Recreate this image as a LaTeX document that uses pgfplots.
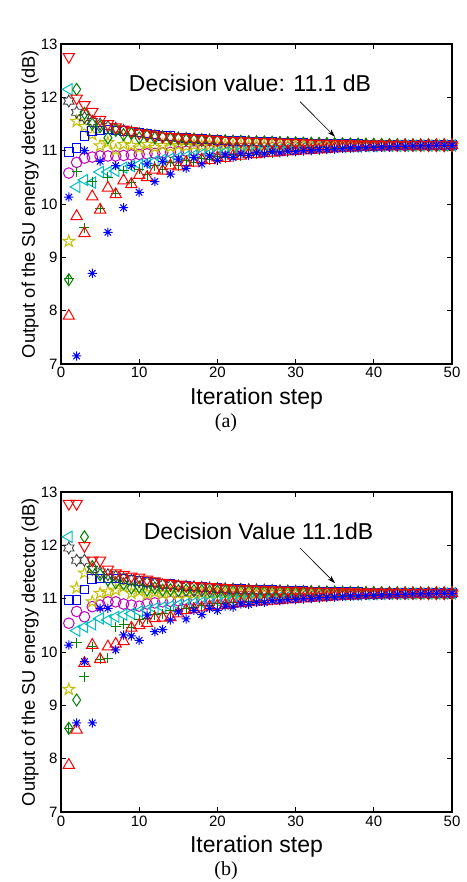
\documentclass[border=0pt]{standalone}
\usepackage{fontspec}
\setmainfont{Liberation Sans}
\newfontfamily\capfont{Liberation Serif}
\usepackage{pgfplots}
\pgfplotsset{compat=1.18}
\usepackage{pgfplotstable}
\usetikzlibrary{arrows.meta}

\definecolor{mblue}{rgb}{0,0,1}
\definecolor{mgreen}{rgb}{0,0.5,0}
\definecolor{mred}{rgb}{1,0,0}
\definecolor{mcyan}{rgb}{0,0.75,0.75}
\definecolor{mmag}{rgb}{0.75,0,0.75}
\definecolor{myel}{rgb}{0.75,0.75,0}
\definecolor{mgray}{rgb}{0.25,0.25,0.25}

% MATLAB-like markers
\pgfdeclareplotmark{penta}{%
  \pgfpathmoveto{\pgfpointpolar{90}{\pgfplotmarksize}}%
  \pgfpathlineto{\pgfpointpolar{126}{0.382\pgfplotmarksize}}%
  \pgfpathlineto{\pgfpointpolar{162}{\pgfplotmarksize}}%
  \pgfpathlineto{\pgfpointpolar{198}{0.382\pgfplotmarksize}}%
  \pgfpathlineto{\pgfpointpolar{234}{\pgfplotmarksize}}%
  \pgfpathlineto{\pgfpointpolar{270}{0.382\pgfplotmarksize}}%
  \pgfpathlineto{\pgfpointpolar{306}{\pgfplotmarksize}}%
  \pgfpathlineto{\pgfpointpolar{342}{0.382\pgfplotmarksize}}%
  \pgfpathlineto{\pgfpointpolar{18}{\pgfplotmarksize}}%
  \pgfpathlineto{\pgfpointpolar{54}{0.382\pgfplotmarksize}}%
  \pgfpathclose\pgfusepathqstroke}
\pgfdeclareplotmark{hexa}{%
  \pgfpathmoveto{\pgfpointpolar{90}{\pgfplotmarksize}}%
  \pgfpathlineto{\pgfpointpolar{120}{0.577\pgfplotmarksize}}%
  \pgfpathlineto{\pgfpointpolar{150}{\pgfplotmarksize}}%
  \pgfpathlineto{\pgfpointpolar{180}{0.577\pgfplotmarksize}}%
  \pgfpathlineto{\pgfpointpolar{210}{\pgfplotmarksize}}%
  \pgfpathlineto{\pgfpointpolar{240}{0.577\pgfplotmarksize}}%
  \pgfpathlineto{\pgfpointpolar{270}{\pgfplotmarksize}}%
  \pgfpathlineto{\pgfpointpolar{300}{0.577\pgfplotmarksize}}%
  \pgfpathlineto{\pgfpointpolar{330}{\pgfplotmarksize}}%
  \pgfpathlineto{\pgfpointpolar{0}{0.577\pgfplotmarksize}}%
  \pgfpathlineto{\pgfpointpolar{30}{\pgfplotmarksize}}%
  \pgfpathlineto{\pgfpointpolar{60}{0.577\pgfplotmarksize}}%
  \pgfpathclose\pgfusepathqstroke}
\pgfdeclareplotmark{diam}{%
  \pgfpathmoveto{\pgfpoint{0pt}{1.2\pgfplotmarksize}}%
  \pgfpathlineto{\pgfpoint{0.8\pgfplotmarksize}{0pt}}%
  \pgfpathlineto{\pgfpoint{0pt}{-1.2\pgfplotmarksize}}%
  \pgfpathlineto{\pgfpoint{-0.8\pgfplotmarksize}{0pt}}%
  \pgfpathclose\pgfusepathqstroke}
\pgfdeclareplotmark{astr}{%
  \pgfpathmoveto{\pgfpointpolar{0}{\pgfplotmarksize}}\pgfpathlineto{\pgfpointpolar{180}{\pgfplotmarksize}}%
  \pgfpathmoveto{\pgfpointpolar{90}{\pgfplotmarksize}}\pgfpathlineto{\pgfpointpolar{270}{\pgfplotmarksize}}%
  \pgfpathmoveto{\pgfpointpolar{45}{\pgfplotmarksize}}\pgfpathlineto{\pgfpointpolar{225}{\pgfplotmarksize}}%
  \pgfpathmoveto{\pgfpointpolar{135}{\pgfplotmarksize}}\pgfpathlineto{\pgfpointpolar{315}{\pgfplotmarksize}}%
  \pgfusepathqstroke}

% columns: A red down-tri, B cyan left-tri, C green diamond, D gray hexagram,
% E yellow pentagram, F blue square, G magenta circle, H green plus,
% I red up-tri, J blue asterisk
\pgfplotstableread{
x A B C D E F G H I J
1 12.76 12.15 8.58 11.93 9.30 10.97 10.58 8.60 7.90 10.13
2 11.98 10.32 12.15 11.72 11.55 11.05 10.78 10.60 9.77 7.15
3 11.86 10.45 11.70 11.62 11.45 11.27 10.86 9.55 9.45 11.00
4 11.73 10.40 11.50 11.55 11.30 11.37 10.88 10.42 10.14 8.70
5 11.58 10.60 11.45 11.50 11.09 11.38 10.90 9.92 9.89 10.80
6 11.50 10.60 11.24 11.45 11.15 11.40 10.90 10.50 10.30 9.47
7 11.44 10.62 11.38 11.42 11.01 11.38 10.90 10.20 10.18 10.72
8 11.40 10.68 11.30 11.38 11.12 11.37 10.91 10.62 10.44 9.93
9 11.37 10.71 11.32 11.35 11.10 11.36 10.92 10.40 10.37 10.72
10 11.33 10.74 11.24 11.32 11.05 11.34 10.93 10.65 10.54 10.22
11 11.31 10.77 11.28 11.30 11.12 11.32 10.94 10.55 10.50 10.75
12 11.29 10.80 11.24 11.28 11.06 11.30 10.95 10.72 10.64 10.42
13 11.27 10.83 11.25 11.26 11.10 11.28 10.96 10.65 10.62 10.80
14 11.26 10.85 11.22 11.25 11.07 11.27 10.97 10.78 10.72 10.56
15 11.25 10.87 11.22 11.24 11.10 11.25 10.98 10.72 10.70 10.84
16 11.24 10.89 11.20 11.23 11.08 11.24 10.99 10.82 10.78 10.67
17 11.23 10.91 11.20 11.22 11.10 11.23 11.00 10.78 10.77 10.87
18 11.22 10.93 11.19 11.21 11.09 11.22 11.01 10.86 10.83 10.75
19 11.21 10.94 11.19 11.20 11.10 11.21 11.02 10.83 10.82 10.90
20 11.20 10.96 11.18 11.19 11.09 11.20 11.02 10.89 10.87 10.82
21 11.19 10.97 11.18 11.185 11.10 11.19 11.03 10.87 10.86 10.92
22 11.185 10.98 11.17 11.18 11.09 11.185 11.03 10.92 10.90 10.87
23 11.18 10.99 11.17 11.175 11.10 11.18 11.04 10.90 10.90 10.94
24 11.175 11.00 11.165 11.17 11.09 11.175 11.04 10.94 10.93 10.91
25 11.17 11.01 11.16 11.165 11.10 11.17 11.05 10.93 10.93 10.96
26 11.165 11.02 11.16 11.16 11.095 11.165 11.05 10.96 10.95 10.94
27 11.16 11.03 11.155 11.155 11.10 11.16 11.055 10.96 10.96 10.98
28 11.155 11.035 11.15 11.15 11.095 11.155 11.06 10.98 10.97 10.96
29 11.15 11.04 11.15 11.145 11.10 11.15 11.06 10.98 10.98 10.99
30 11.145 11.045 11.145 11.14 11.095 11.145 11.065 11.00 10.99 10.98
31 11.14 11.05 11.14 11.137 11.10 11.14 11.07 11.00 11.00 11.00
32 11.137 11.055 11.137 11.134 11.10 11.137 11.07 11.02 11.01 11.00
33 11.134 11.06 11.134 11.131 11.10 11.134 11.075 11.02 11.02 11.02
34 11.131 11.065 11.131 11.128 11.10 11.131 11.075 11.03 11.03 11.02
35 11.128 11.07 11.128 11.125 11.10 11.128 11.08 11.04 11.04 11.03
36 11.125 11.073 11.125 11.122 11.10 11.125 11.08 11.05 11.05 11.04
37 11.122 11.076 11.122 11.12 11.10 11.122 11.085 11.05 11.05 11.05
38 11.12 11.079 11.12 11.118 11.10 11.12 11.085 11.06 11.06 11.05
39 11.118 11.082 11.118 11.116 11.10 11.118 11.09 11.06 11.07 11.06
40 11.116 11.085 11.116 11.114 11.10 11.116 11.09 11.07 11.07 11.06
41 11.114 11.087 11.114 11.112 11.10 11.114 11.09 11.07 11.08 11.07
42 11.112 11.089 11.112 11.11 11.10 11.112 11.092 11.08 11.08 11.07
43 11.11 11.091 11.11 11.108 11.10 11.11 11.094 11.08 11.085 11.08
44 11.108 11.093 11.108 11.107 11.10 11.108 11.095 11.08 11.09 11.08
45 11.107 11.095 11.107 11.106 11.10 11.107 11.096 11.09 11.09 11.09
46 11.106 11.096 11.106 11.105 11.10 11.106 11.097 11.09 11.095 11.09
47 11.105 11.097 11.105 11.104 11.10 11.105 11.098 11.09 11.095 11.09
48 11.104 11.098 11.104 11.103 11.10 11.104 11.098 11.095 11.10 11.10
49 11.103 11.099 11.103 11.102 11.10 11.103 11.099 11.10 11.10 11.10
50 11.102 11.10 11.102 11.101 11.10 11.102 11.10 11.10 11.10 11.10
}\tabA

\pgfplotstableread{
x A B C D E F G H I J
1 12.78 12.16 8.57 11.95 9.30 10.97 10.54 8.57 7.88 10.13
2 12.78 10.40 9.10 11.72 11.20 10.97 10.76 10.17 8.54 8.67
3 11.99 10.47 12.16 11.72 11.48 11.17 10.66 9.54 9.79 9.82
4 11.72 10.52 11.60 11.55 10.94 11.37 10.85 10.10 10.13 8.67
5 11.72 10.63 11.45 11.50 11.10 11.38 10.88 9.86 9.86 10.82
6 11.55 10.60 11.35 11.45 11.13 11.38 10.94 9.88 10.10 10.82
7 11.48 10.66 11.30 11.42 11.16 11.38 10.94 10.47 10.15 10.04
8 11.45 10.70 11.28 11.38 11.22 11.37 10.90 10.52 10.20 10.32
9 11.42 10.72 11.20 11.35 11.10 11.35 10.88 10.45 10.45 10.30
10 11.40 10.76 11.22 11.32 11.14 11.33 10.86 10.60 10.50 10.22
11 11.36 10.79 11.16 11.30 11.08 11.31 10.90 10.62 10.54 10.69
12 11.33 10.82 11.20 11.28 11.12 11.30 10.92 10.70 10.63 10.38
13 11.30 10.84 11.16 11.26 11.09 11.28 10.94 10.72 10.64 10.42
14 11.28 10.86 11.17 11.25 11.11 11.27 10.95 10.77 10.65 10.60
15 11.27 10.88 11.15 11.24 11.09 11.25 10.96 10.78 10.72 10.75
16 11.25 10.90 11.16 11.23 11.10 11.24 10.97 10.82 10.78 10.62
17 11.24 10.92 11.15 11.22 11.09 11.23 10.98 10.84 10.80 10.78
18 11.23 10.93 11.15 11.21 11.10 11.22 10.99 10.87 10.83 10.70
19 11.22 10.95 11.14 11.20 11.09 11.21 11.00 10.88 10.85 10.82
20 11.21 10.96 11.14 11.19 11.10 11.20 11.01 10.90 10.87 10.78
21 11.20 10.97 11.14 11.185 11.09 11.19 11.02 10.91 10.88 10.86
22 11.19 10.98 11.135 11.18 11.10 11.185 11.03 10.92 10.90 10.84
23 11.185 10.99 11.13 11.175 11.09 11.18 11.04 10.93 10.91 10.90
24 11.18 11.00 11.13 11.17 11.10 11.175 11.04 10.94 10.93 10.89
25 11.17 11.01 11.125 11.165 11.095 11.17 11.05 10.95 10.94 10.93
26 11.165 11.02 11.12 11.16 11.10 11.165 11.05 10.96 10.95 10.93
27 11.16 11.03 11.12 11.155 11.095 11.16 11.055 10.97 10.96 10.96
28 11.155 11.035 11.115 11.15 11.10 11.155 11.06 10.98 10.97 10.96
29 11.15 11.04 11.115 11.145 11.095 11.15 11.06 10.99 10.98 10.98
30 11.145 11.045 11.11 11.14 11.10 11.145 11.065 11.00 10.99 10.98
31 11.14 11.05 11.11 11.137 11.10 11.14 11.07 11.00 11.00 11.00
32 11.137 11.055 11.11 11.134 11.10 11.137 11.07 11.01 11.01 11.00
33 11.134 11.06 11.11 11.131 11.10 11.134 11.075 11.02 11.02 11.02
34 11.131 11.065 11.11 11.128 11.10 11.131 11.075 11.03 11.03 11.02
35 11.128 11.07 11.11 11.125 11.10 11.128 11.08 11.04 11.04 11.03
36 11.125 11.073 11.11 11.122 11.10 11.125 11.08 11.05 11.05 11.04
37 11.122 11.076 11.11 11.12 11.10 11.122 11.085 11.05 11.05 11.05
38 11.12 11.079 11.11 11.118 11.10 11.12 11.085 11.06 11.06 11.05
39 11.118 11.082 11.105 11.116 11.10 11.118 11.09 11.06 11.07 11.06
40 11.116 11.085 11.105 11.114 11.10 11.116 11.09 11.07 11.07 11.06
41 11.114 11.087 11.105 11.112 11.10 11.114 11.09 11.07 11.08 11.07
42 11.112 11.089 11.105 11.11 11.10 11.112 11.092 11.08 11.08 11.07
43 11.11 11.091 11.105 11.108 11.10 11.11 11.094 11.08 11.085 11.08
44 11.108 11.093 11.105 11.107 11.10 11.108 11.095 11.08 11.09 11.08
45 11.107 11.095 11.105 11.106 11.10 11.107 11.096 11.09 11.09 11.09
46 11.106 11.096 11.10 11.105 11.10 11.106 11.097 11.09 11.095 11.09
47 11.105 11.097 11.10 11.104 11.10 11.105 11.098 11.09 11.095 11.09
48 11.104 11.098 11.10 11.103 11.10 11.104 11.098 11.095 11.10 11.10
49 11.103 11.099 11.10 11.102 11.10 11.103 11.099 11.10 11.10 11.10
50 11.102 11.10 11.10 11.101 11.10 11.102 11.10 11.10 11.10 11.10
}\tabB

\pgfplotsset{
  mlab/.style={
    scale only axis, width=391pt, height=320pt,
    xmin=0, xmax=50, ymin=7, ymax=13,
    xtick={0,10,...,50}, ytick={7,8,...,13},
    tick align=inside, major tick length=5pt,
    axis line style={line width=1.1pt},
    every tick/.style={black, line width=0.8pt},
    /pgf/number format/assume math mode=true,
    tick label style={font=\fontsize{15}{15}\selectfont},
    xlabel={Iteration step},
    xlabel style={at={(axis description cs:0.5,-0.128)}, anchor=base, font=\fontsize{23}{23}\selectfont},
    ylabel={Output of the SU energy detector (dB)},
    ylabel style={at={(axis description cs:-0.0665,0.5)}, anchor=base, font=\fontsize{18.3}{18.3}\selectfont},
    clip=false,
  },
  sA/.style={mred, only marks, mark=triangle, mark size=6.5pt, mark options={rotate=180, line width=1pt}},
  sB/.style={mcyan, only marks, mark=triangle, mark size=6.5pt, mark options={rotate=90, line width=1pt}},
  sC/.style={mgreen, only marks, mark=diam, mark size=5pt, mark options={line width=1pt}},
  sD/.style={mgray, only marks, mark=hexa, mark size=6pt, mark options={line width=0.9pt}},
  sE/.style={myel, only marks, mark=penta, mark size=6.2pt, mark options={line width=1pt}},
  sF/.style={mblue, only marks, mark=square, mark size=4.3pt, mark options={line width=1pt}},
  sG/.style={mmag, only marks, mark=o, mark size=5.3pt, mark options={line width=1pt}},
  sH/.style={mgreen, only marks, mark=+, mark size=5pt, mark options={line width=1pt}},
  sI/.style={mred, only marks, mark=triangle, mark size=6.5pt, mark options={line width=1pt}},
  sJ/.style={mblue, only marks, mark=astr, mark size=4.6pt, mark options={line width=1pt}},
}

\begin{document}
\begin{tikzpicture}
\useasboundingbox (0,0) rectangle (466pt,882pt);

\begin{axis}[mlab, at={(61pt,518pt)}, anchor=south west]
\addplot[sG] table[x=x,y=G]{\tabA};
\addplot[sE] table[x=x,y=E]{\tabA};
\addplot[sF] table[x=x,y=F]{\tabA};
\addplot[sD] table[x=x,y=D]{\tabA};
\addplot[sB] table[x=x,y=B]{\tabA};
\addplot[sC] table[x=x,y=C]{\tabA};
\addplot[sA] table[x=x,y=A]{\tabA};
\addplot[sH] table[x=x,y=H]{\tabA};
\addplot[sI] table[x=x,y=I]{\tabA};
\addplot[sJ] table[x=x,y=J]{\tabA};
\node[anchor=base, font=\fontsize{23}{23}\selectfont] at (axis cs:24.17,12.105) {Decision value: 11.1 dB};
\draw[black, line width=0.6pt, -{Stealth[length=8pt,width=5pt]}] (axis cs:30.56,11.92) -- (axis cs:35.04,11.26);
\end{axis}

\begin{axis}[mlab, at={(61pt,70pt)}, anchor=south west]
\addplot[sG] table[x=x,y=G]{\tabB};
\addplot[sE] table[x=x,y=E]{\tabB};
\addplot[sF] table[x=x,y=F]{\tabB};
\addplot[sD] table[x=x,y=D]{\tabB};
\addplot[sB] table[x=x,y=B]{\tabB};
\addplot[sC] table[x=x,y=C]{\tabB};
\addplot[sA] table[x=x,y=A]{\tabB};
\addplot[sH] table[x=x,y=H]{\tabB};
\addplot[sI] table[x=x,y=I]{\tabB};
\addplot[sJ] table[x=x,y=J]{\tabB};
\node[anchor=base, font=\fontsize{23}{23}\selectfont] at (axis cs:25.26,12.10) {Decision Value 11.1dB};
\draw[black, line width=0.6pt, -{Stealth[length=8pt,width=5pt]}] (axis cs:30.56,11.95) -- (axis cs:35.04,11.29);
\end{axis}

\node[anchor=base, font=\capfont\fontsize{20}{20}\selectfont] at (226pt,454pt) {(a)};
\node[anchor=base, font=\capfont\fontsize{20}{20}\selectfont] at (226pt,6pt) {(b)};
\end{tikzpicture}
\end{document}
